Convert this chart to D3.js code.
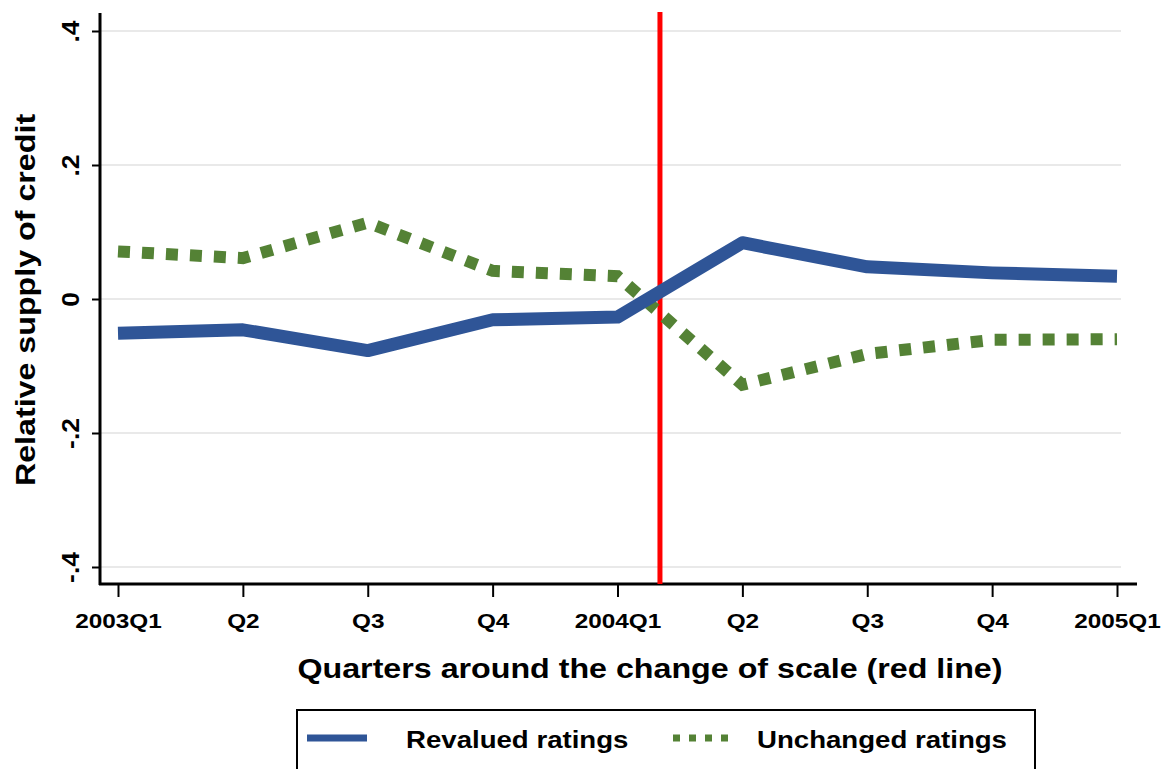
<!DOCTYPE html>
<html>
<head>
<meta charset="utf-8">
<script src="https://cdn.jsdelivr.net/npm/d3@7"></script>
<style>
  body { margin: 0; background: #fff; }
  svg text { font-family: "Liberation Sans", Arial, sans-serif; font-weight: bold; fill: #000; }
</style>
</head>
<body>
<div id="chart"></div>
<script>
// quarters around the change of scale
const quarters = ["2003Q1", "Q2", "Q3", "Q4", "2004Q1", "Q2", "Q3", "Q4", "2005Q1"];
const revalued = [-0.051, -0.046, -0.077, -0.031, -0.027, 0.084, 0.048, 0.039, 0.034];
const unchanged = [0.071, 0.061, 0.114, 0.042, 0.034, -0.128, -0.082, -0.061, -0.060];
const yTicks = [-0.4, -0.2, 0, 0.2, 0.4];
const yTickLabels = ["-.4", "-.2", "0", ".2", ".4"];
const changePoint = 4.34; // red line, between 2004Q1 and Q2

const width = 1167, height = 769;

// the original font is a bit wider than Liberation Sans
function widen(sel, k) {
    sel.each(function() {
        let w = this.getComputedTextLength();
        d3.select(this).attr("textLength", w * k).attr("lengthAdjust", "spacingAndGlyphs");
    });
}

const svg = d3.select("#chart").append("svg")
    .attr("width", width)
    .attr("height", height);

// scales
const x = d3.scaleLinear()
    .domain([0, quarters.length - 1])
    .range([118, 1117]);

const y = d3.scaleLinear()
    .domain([-0.4, 0.4])
    .range([567, 31]);

const axisLeft = 100, axisBottom = 584, axisTop = 13, axisRight = 1137;

// gridlines
svg.append("g")
    .selectAll("line")
    .data(yTicks)
    .join("line")
    .attr("x1", axisLeft)
    .attr("x2", 1121)
    .attr("y1", d => y(d))
    .attr("y2", d => y(d))
    .attr("stroke", "#e2e2e2")
    .attr("stroke-width", 1.5);

// y axis
const yAxis = svg.append("g")
    .attr("transform", "translate(" + axisLeft + ",0)")
    .call(d3.axisLeft(y).tickValues(yTicks).tickSize(8).tickFormat((d, i) => yTickLabels[i]));
yAxis.select(".domain").remove();
yAxis.selectAll(".tick line").attr("stroke", "#000").attr("stroke-width", 2);
yAxis.selectAll(".tick text")
    .attr("font-size", 23)
    .attr("text-anchor", "middle")
    .attr("x", null)
    .attr("dy", null)
    .attr("transform", "translate(-21,0) rotate(-90)")
    .attr("y", 0)
    .call(widen, 1.15);

svg.append("line")
    .attr("x1", axisLeft).attr("x2", axisLeft)
    .attr("y1", axisTop).attr("y2", axisBottom + 1)
    .attr("stroke", "#000").attr("stroke-width", 3);

// x axis
const xAxis = svg.append("g")
    .attr("transform", "translate(0," + axisBottom + ")")
    .call(d3.axisBottom(x).tickValues(d3.range(quarters.length)).tickSize(13).tickFormat(i => quarters[i]));
xAxis.select(".domain").remove();
xAxis.selectAll(".tick line").attr("stroke", "#000").attr("stroke-width", 2);
xAxis.selectAll(".tick text")
    .attr("font-size", 21)
    .attr("dy", null)
    .attr("y", 44)
    .call(widen, 1.16);

svg.append("line")
    .attr("x1", axisLeft - 1).attr("x2", axisRight)
    .attr("y1", axisBottom).attr("y2", axisBottom)
    .attr("stroke", "#000").attr("stroke-width", 3);

// red line at the change of scale
svg.append("line")
    .attr("x1", x(changePoint)).attr("x2", x(changePoint))
    .attr("y1", 12).attr("y2", axisBottom)
    .attr("stroke", "#ff0000")
    .attr("stroke-width", 5);

const line = d3.line()
    .x((d, i) => x(i))
    .y(d => y(d));

svg.append("path")
    .datum(unchanged)
    .attr("d", line)
    .attr("fill", "none")
    .attr("stroke", "#548235")
    .attr("stroke-width", 12)
    .attr("stroke-dasharray", "12,12");

svg.append("path")
    .datum(revalued)
    .attr("d", line)
    .attr("fill", "none")
    .attr("stroke", "#2f5597")
    .attr("stroke-width", 13)
    .attr("stroke-linejoin", "round");

// axis titles
svg.append("text")
    .attr("x", 650)
    .attr("y", 678)
    .attr("text-anchor", "middle")
    .attr("font-size", 28)
    .text("Quarters around the change of scale (red line)")
    .call(widen, 1.15);

svg.append("text")
    .attr("transform", "translate(35,300) rotate(-90)")
    .attr("text-anchor", "middle")
    .attr("font-size", 28)
    .text("Relative supply of credit")
    .call(widen, 1.15);

// legend
const legend = svg.append("g");
legend.append("rect")
    .attr("x", 297).attr("y", 710)
    .attr("width", 738).attr("height", 80)
    .attr("fill", "#fff")
    .attr("stroke", "#000")
    .attr("stroke-width", 2);

legend.append("line")
    .attr("x1", 307).attr("x2", 367)
    .attr("y1", 738).attr("y2", 738)
    .attr("stroke", "#2f5597").attr("stroke-width", 7);
legend.append("text")
    .attr("x", 406).attr("y", 748)
    .attr("font-size", 24)
    .text("Revalued ratings")
    .call(widen, 1.15);

legend.append("line")
    .attr("x1", 673).attr("x2", 734)
    .attr("y1", 738).attr("y2", 738)
    .attr("stroke", "#548235").attr("stroke-width", 7)
    .attr("stroke-dasharray", "7,9");
legend.append("text")
    .attr("x", 757).attr("y", 748)
    .attr("font-size", 24)
    .text("Unchanged ratings")
    .call(widen, 1.15);
</script>
</body>
</html>
